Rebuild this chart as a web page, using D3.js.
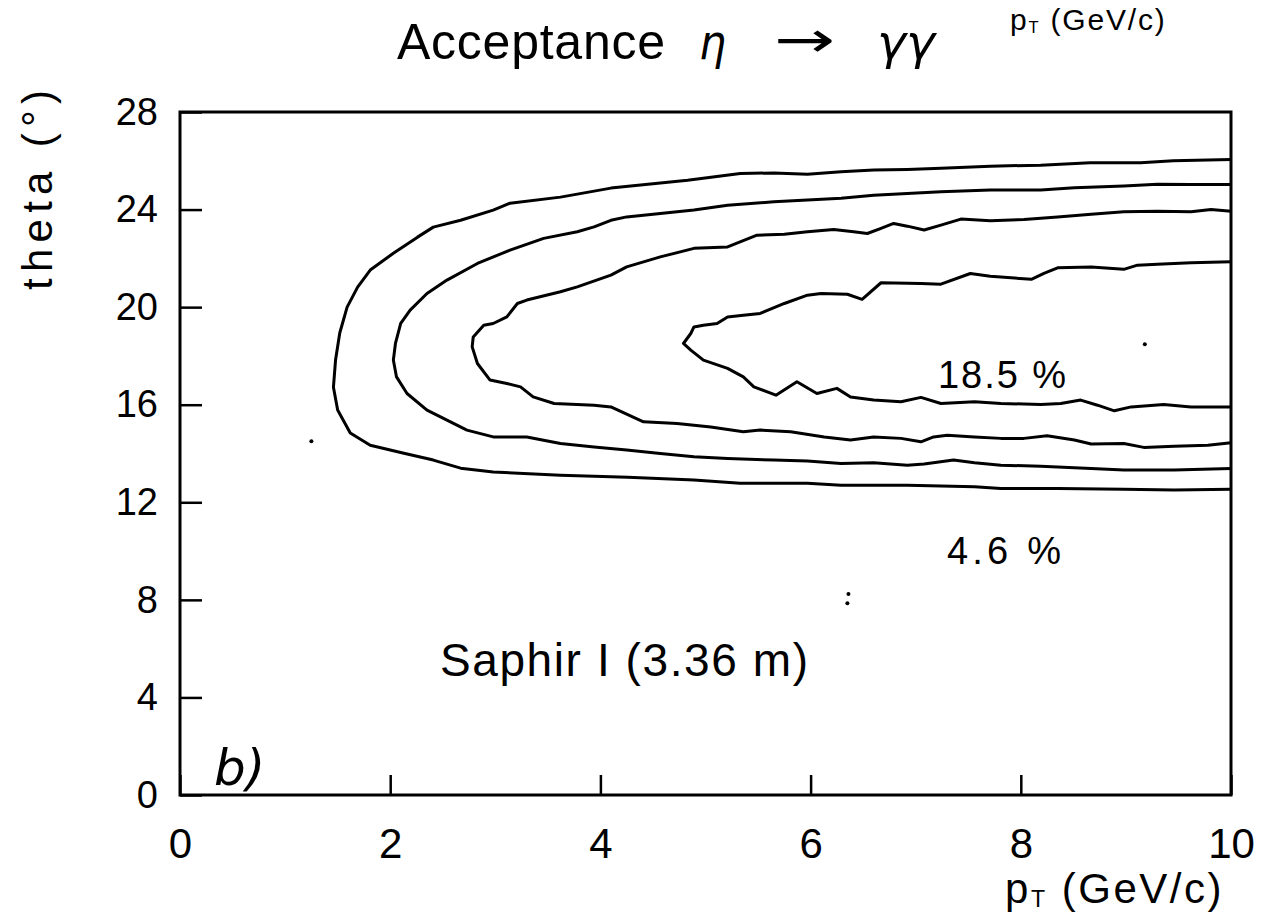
<!DOCTYPE html>
<html>
<head>
<meta charset="utf-8">
<script src="https://cdn.jsdelivr.net/npm/d3@7"></script>
<style>
    body { margin: 0; background: #fff; }
    text { font-family: 'Liberation Sans', Arial, sans-serif; fill: #000; }
</style>
</head>
<body>
<div class="canvas"></div>
<script>
// axis ticks
const pTTicks = [0, 2, 4, 6, 8, 10];
const thetaTicks = [0, 4, 8, 12, 16, 20, 24, 28];

// contour lines, [pT (GeV/c), theta (deg)]
const contourOuter = [
    [10.00, 26.05], [9.45, 26.00], [9.14, 25.92], [8.66, 25.92], [8.19, 25.82], [7.71, 25.78],
    [7.24, 25.69], [6.92, 25.64], [6.60, 25.62], [6.29, 25.55], [5.97, 25.45], [5.65, 25.50],
    [5.33, 25.48], [4.83, 25.20], [4.10, 24.88], [3.62, 24.51], [3.14, 24.26], [2.98, 23.98],
    [2.67, 23.56], [2.41, 23.28], [2.26, 22.87], [2.03, 22.21], [1.81, 21.52], [1.69, 20.82],
    [1.59, 20.00], [1.52, 18.94], [1.48, 17.83], [1.46, 16.72], [1.50, 15.78], [1.62, 14.84],
    [1.81, 14.34], [2.12, 14.02], [2.41, 13.73], [2.67, 13.40], [2.98, 13.24], [3.62, 13.11],
    [4.26, 13.03], [4.89, 12.91], [5.33, 12.78], [5.97, 12.78], [6.29, 12.70], [6.92, 12.70],
    [7.56, 12.64], [7.81, 12.57], [8.35, 12.57], [8.98, 12.53], [9.46, 12.50], [10.00, 12.53]
];

const contourSecond = [
    [10.00, 25.03], [9.62, 25.03], [9.30, 25.04], [8.98, 24.97], [8.51, 24.89], [8.19, 24.80],
    [7.71, 24.80], [7.24, 24.73], [6.92, 24.66], [6.60, 24.59], [6.29, 24.46], [5.97, 24.39],
    [5.65, 24.32], [5.21, 24.18], [4.89, 23.98], [4.57, 23.84], [4.25, 23.70], [4.10, 23.56],
    [3.94, 23.29], [3.78, 23.09], [3.46, 22.82], [3.14, 22.34], [2.83, 21.79], [2.54, 21.11],
    [2.35, 20.56], [2.19, 19.88], [2.10, 19.33], [2.05, 18.51], [2.03, 17.83], [2.06, 17.14],
    [2.16, 16.46], [2.35, 15.78], [2.54, 15.37], [2.73, 14.96], [2.98, 14.68], [3.30, 14.68],
    [3.62, 14.41], [3.94, 14.27], [4.25, 14.14], [4.57, 14.00], [4.89, 13.87], [5.21, 13.80],
    [5.65, 13.73], [5.97, 13.69], [6.29, 13.59], [6.60, 13.62], [6.92, 13.52], [7.08, 13.57],
    [7.36, 13.73], [7.56, 13.62], [7.81, 13.52], [8.19, 13.48], [8.67, 13.39], [8.98, 13.32],
    [9.46, 13.32], [10.00, 13.39]
];

const contourThird = [
    [10.00, 23.93], [9.81, 24.00], [9.62, 23.91], [9.30, 23.93], [8.98, 23.91], [8.67, 23.81],
    [8.35, 23.70], [8.03, 23.59], [7.71, 23.54], [7.43, 23.61], [7.24, 23.36], [7.08, 23.16],
    [6.92, 23.32], [6.79, 23.43], [6.67, 23.23], [6.54, 23.02], [6.41, 23.09], [6.22, 23.18],
    [5.97, 23.09], [5.75, 22.99], [5.49, 22.95], [5.21, 22.47], [4.89, 22.41], [4.57, 22.06],
    [4.25, 21.65], [4.10, 21.31], [3.78, 20.83], [3.62, 20.63], [3.30, 20.29], [3.21, 20.15],
    [3.11, 19.60], [2.98, 19.33], [2.89, 19.26], [2.79, 18.78], [2.78, 18.37], [2.83, 17.69],
    [2.95, 17.01], [3.11, 16.87], [3.24, 16.73], [3.36, 16.32], [3.56, 16.05], [3.94, 15.98],
    [4.10, 15.91], [4.41, 15.30], [4.73, 15.23], [5.05, 15.09], [5.36, 14.89], [5.52, 14.96],
    [5.81, 14.89], [6.13, 14.68], [6.38, 14.55], [6.60, 14.68], [6.86, 14.62], [7.05, 14.48],
    [7.17, 14.68], [7.30, 14.75], [7.56, 14.68], [7.81, 14.62], [8.03, 14.62], [8.25, 14.73],
    [8.51, 14.55], [8.67, 14.39], [8.98, 14.41], [9.17, 14.25], [9.46, 14.30], [9.78, 14.34],
    [10.00, 14.44]
];

const contourInner = [
    [10.00, 21.86], [9.62, 21.82], [9.30, 21.76], [9.11, 21.72], [8.98, 21.55], [8.67, 21.65],
    [8.35, 21.61], [8.22, 21.38], [8.10, 21.14], [7.71, 21.27], [7.52, 21.38], [7.24, 20.94],
    [7.05, 20.97], [6.67, 21.00], [6.49, 20.32], [6.35, 20.53], [6.10, 20.56], [5.97, 20.49],
    [5.75, 20.15], [5.52, 19.74], [5.36, 19.67], [5.21, 19.60], [5.11, 19.33], [4.98, 19.26],
    [4.89, 19.19], [4.86, 18.92], [4.79, 18.51], [4.86, 18.24], [4.98, 17.83], [5.21, 17.49],
    [5.36, 17.14], [5.46, 16.73], [5.67, 16.39], [5.87, 16.94], [6.06, 16.46], [6.25, 16.67],
    [6.38, 16.32], [6.60, 16.19], [6.86, 16.12], [7.05, 16.30], [7.24, 16.05], [7.56, 16.12],
    [7.81, 16.05], [8.19, 16.01], [8.38, 16.05], [8.57, 16.19], [8.73, 15.98], [8.89, 15.75],
    [9.05, 15.91], [9.36, 16.01], [9.62, 15.91], [10.00, 15.91]
];

const contours = [contourOuter, contourSecond, contourThird, contourInner];

// specks on the scanned page
const strayDots = [[9.18, 18.48], [6.36, 8.24], [6.35, 7.86], [1.25, 14.5]];

const dimensions = { width: 1274, height: 920 };
const frame = { left: 180, right: 1231, top: 112, bottom: 795 };

const svg = d3.select('.canvas')
    .append('svg')
    .attr('width', dimensions.width)
    .attr('height', dimensions.height);

const x = d3.scaleLinear().domain([0, 10]).range([frame.left, frame.right]);
const y = d3.scaleLinear().domain([0, 28]).range([frame.bottom, frame.top]);

// axes with inward ticks
const xAxis = svg.append('g')
    .attr('transform', `translate(0, ${frame.bottom})`)
    .call(d3.axisBottom(x).tickValues(pTTicks).tickSize(-20).tickSizeOuter(0).tickPadding(33));

const yAxis = svg.append('g')
    .attr('transform', `translate(${frame.left}, 0)`)
    .call(d3.axisLeft(y).tickValues(thetaTicks).tickSize(-22).tickSizeOuter(0).tickPadding(22));

[xAxis, yAxis].forEach(g => {
    g.select('.domain').remove();
    g.selectAll('line').attr('stroke', '#000').attr('stroke-width', 2.5);
    g.selectAll('text')
        .attr('fill', '#000')
        .style('font-family', "'Liberation Sans', Arial, sans-serif");
});
xAxis.selectAll('text').style('font-size', '42px');
yAxis.selectAll('text').style('font-size', '38px');

// frame
svg.append('rect')
    .attr('x', frame.left)
    .attr('y', frame.top)
    .attr('width', frame.right - frame.left)
    .attr('height', frame.bottom - frame.top)
    .attr('fill', 'none')
    .attr('stroke', '#000')
    .attr('stroke-width', 3);

// contours
const line = d3.line()
    .x(d => x(d[0]))
    .y(d => y(d[1]));

svg.selectAll('.contour')
    .data(contours)
    .enter()
    .append('path')
    .attr('class', 'contour')
    .attr('fill', 'none')
    .attr('stroke', '#000')
    .attr('stroke-width', 3)
    .attr('stroke-linejoin', 'round')
    .attr('d', line);

svg.selectAll('.speck')
    .data(strayDots)
    .enter()
    .append('circle')
    .attr('class', 'speck')
    .attr('cx', d => x(d[0]))
    .attr('cy', d => y(d[1]))
    .attr('r', 2)
    .attr('fill', '#000');

// title
const title = svg.append('g').style('font-size', '50px');
title.append('text').attr('x', 397).attr('y', 59)
    .attr('textLength', 268).attr('lengthAdjust', 'spacing')
    .text('Acceptance');
title.append('text').attr('x', 699).attr('y', 59)
    .style('font-style', 'italic').style('font-family', "'DejaVu Sans', sans-serif")
    .style('font-size', '48px')
    .attr('textLength', 27).attr('lengthAdjust', 'spacingAndGlyphs')
    .text('η');
title.append('text').attr('x', 774).attr('y', 57)
    .attr('textLength', 61).attr('lengthAdjust', 'spacingAndGlyphs')
    .style('font-family', "'DejaVu Sans', sans-serif")
    .text('→');
title.append('text').attr('x', 877).attr('y', 59)
    .style('font-style', 'italic').style('font-family', "'DejaVu Sans', sans-serif")
    .style('font-size', '48px')
    .attr('textLength', 58).attr('lengthAdjust', 'spacingAndGlyphs')
    .text('γγ');

// axis titles
const ptLabel = (sel, xPos, yPos, size) => {
    const t = sel.append('text')
        .attr('x', xPos).attr('y', yPos)
        .style('font-size', `${size}px`)
        .style('letter-spacing', `${size * 0.06}px`);
    t.append('tspan').text('p');
    t.append('tspan').attr('dy', size * 0.1).style('font-size', `${size * 0.55}px`).text('T');
    t.append('tspan').attr('dy', -size * 0.1).text(' (GeV/c)');
};
ptLabel(svg, 1005, 903, 42);
// label of the panel above, at the top edge
ptLabel(svg, 1010, 30, 30);

svg.append('text')
    .attr('transform', 'translate(52, 190) rotate(-90)')
    .attr('text-anchor', 'middle')
    .attr('textLength', 200).attr('lengthAdjust', 'spacing')
    .style('font-size', '42px')
    .text('theta (°)');

// annotations
svg.append('text').attr('x', 938).attr('y', 388)
    .attr('textLength', 128).attr('lengthAdjust', 'spacing')
    .style('font-size', '38px')
    .text('18.5 %');

svg.append('text').attr('x', 947).attr('y', 564)
    .attr('textLength', 114).attr('lengthAdjust', 'spacing')
    .style('font-size', '38px')
    .text('4.6 %');

svg.append('text').attr('x', 440).attr('y', 676)
    .attr('textLength', 368).attr('lengthAdjust', 'spacing')
    .style('font-size', '46px')
    .text('Saphir I (3.36 m)');

svg.append('text').attr('x', 214).attr('y', 785)
    .style('font-size', '50px')
    .style('font-style', 'italic')
    .style('font-family', "'DejaVu Sans', sans-serif")
    .text('b)');
</script>
</body>
</html>
